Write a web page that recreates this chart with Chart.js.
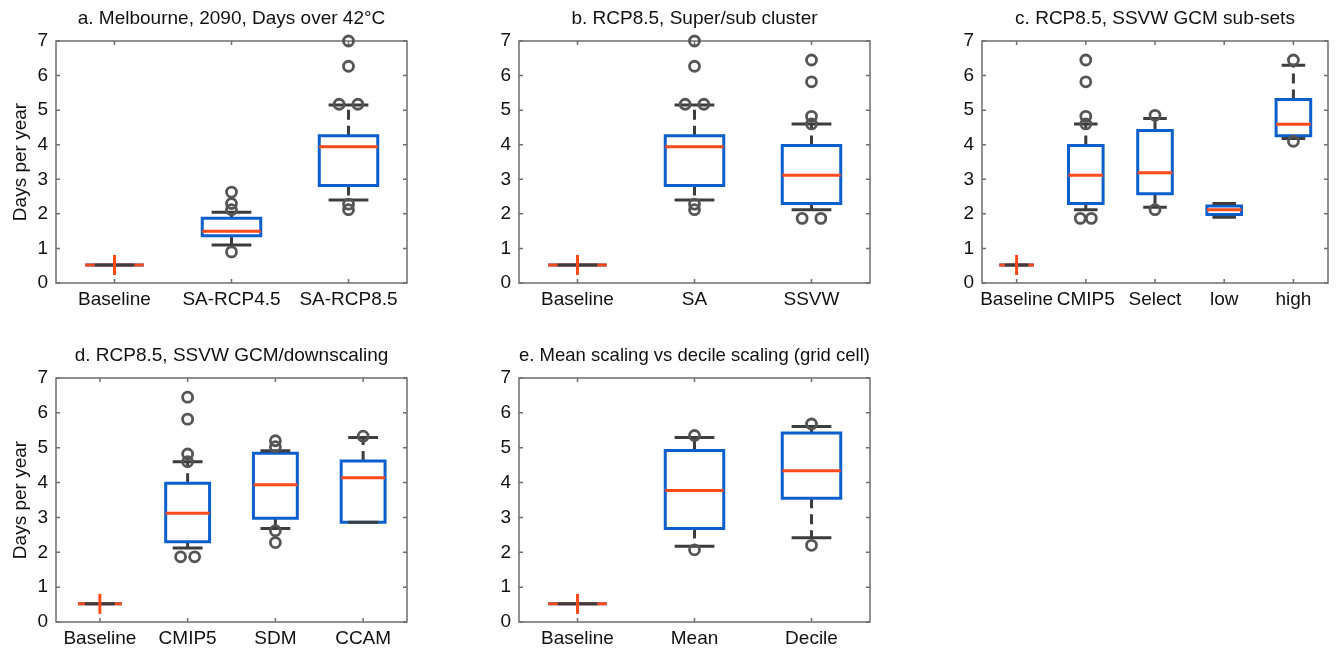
<!DOCTYPE html>
<html>
<head>
<meta charset="utf-8">
<script src="https://cdn.jsdelivr.net/npm/chart.js@4.4.0/dist/chart.umd.min.js"></script>
<style>
  body { margin: 0; background: #fff; width: 1341px; height: 650px; overflow: hidden; }
  .panel { position: absolute; }
</style>
</head>
<body>
<div class="panel" style="left:0px;top:0px"><canvas id="chartA" width="420" height="310"></canvas></div>
<div class="panel" style="left:463px;top:0px"><canvas id="chartB" width="420" height="310"></canvas></div>
<div class="panel" style="left:926px;top:0px"><canvas id="chartC" width="415" height="310"></canvas></div>
<div class="panel" style="left:0px;top:337px"><canvas id="chartD" width="420" height="312"></canvas></div>
<div class="panel" style="left:463px;top:337px"><canvas id="chartE" width="420" height="312"></canvas></div>
<script>
// a. Melbourne, 2090, Days over 42°C
const catsA = ["Baseline", "SA-RCP4.5", "SA-RCP8.5"];
const loA = [0.52, 1.1, 2.4];
const q1A = [0.52, 1.37, 2.82];
const medA = [0.52, 1.5, 3.94];
const q3A = [0.52, 1.87, 4.26];
const hiA = [0.52, 2.05, 5.15];
const outA = [[], [0.9, 2.12, 2.3, 2.63], [2.12, 2.28, 5.17, 5.17, 6.27, 7.0]];

// b. RCP8.5, Super/sub cluster
const catsB = ["Baseline", "SA", "SSVW"];
const loB = [0.52, 2.4, 2.12];
const q1B = [0.52, 2.82, 2.3];
const medB = [0.52, 3.94, 3.12];
const q3B = [0.52, 4.26, 3.98];
const hiB = [0.52, 5.15, 4.6];
const outB = [[], [2.12, 2.28, 5.17, 5.17, 6.27, 7.0], [1.87, 1.87, 4.6, 4.82, 5.82, 6.45]];

// c. RCP8.5, SSVW GCM sub-sets
const catsC = ["Baseline", "CMIP5", "Select", "low", "high"];
const loC = [0.52, 2.12, 2.19, 1.9, 4.18];
const q1C = [0.52, 2.3, 2.58, 1.98, 4.26];
const medC = [0.52, 3.12, 3.19, 2.12, 4.59];
const q3C = [0.52, 3.98, 4.41, 2.23, 5.31];
const hiC = [0.52, 4.6, 4.76, 2.3, 6.3];
const outC = [[], [1.87, 1.87, 4.6, 4.82, 5.82, 6.45], [2.12, 4.85], [], [4.1, 6.45]];

// d. RCP8.5, SSVW GCM/downscaling
const catsD = ["Baseline", "CMIP5", "SDM", "CCAM"];
const loD = [0.52, 2.12, 2.68, 2.86];
const q1D = [0.52, 2.3, 2.98, 2.86];
const medD = [0.52, 3.12, 3.94, 4.14];
const q3D = [0.52, 3.98, 4.84, 4.62];
const hiD = [0.52, 4.6, 4.91, 5.29];
const outD = [[], [1.87, 1.87, 4.6, 4.82, 5.82, 6.45], [2.28, 2.62, 5.03, 5.2], [5.33]];

// e. Mean scaling vs decile scaling (grid cell)
const catsE = ["Baseline", "Mean", "Decile"];
const loE = [0.52, 2.17, 2.42];
const q1E = [0.52, 2.68, 3.55];
const medE = [0.52, 3.77, 4.34];
const q3E = [0.52, 4.92, 5.42];
const hiE = [0.52, 5.29, 5.61];
const outE = [[], [2.07, 5.35], [2.2, 5.68]];

const yTicks = [0, 1, 2, 3, 4, 5, 6, 7];

const BLUE = "#0b5fcc";
const RED = "#ff4a1a";
const DARK = "#3d3d3d";
const FONT = "'Liberation Sans', Arial, sans-serif";

// box half width, cap half width and side-by-side spread (x data units)
const BOX_HALF = 0.25;
const CAP_HALF = 0.17;
const SPREAD = 0.08;

// Build the line / point datasets for one box plot panel
function boxDatasets(cats, lo, q1, med, q3, hi, outs) {
  const boxPts = [], medPts = [], whiskPts = [], capPts = [], outPts = [], plusPts = [];

  cats.forEach((c, i) => {
    const x = i + 1;

    // box outline, starting mid bottom so no corner is left open
    boxPts.push(
      { x: x, y: q1[i] },
      { x: x + BOX_HALF, y: q1[i] },
      { x: x + BOX_HALF, y: q3[i] },
      { x: x - BOX_HALF, y: q3[i] },
      { x: x - BOX_HALF, y: q1[i] },
      { x: x, y: q1[i] },
      { x: x, y: null }
    );

    medPts.push({ x: x - BOX_HALF, y: med[i] }, { x: x + BOX_HALF, y: med[i] }, { x: x, y: null });

    if (hi[i] > q3[i]) {
      whiskPts.push({ x: x, y: q3[i] }, { x: x, y: hi[i] }, { x: x, y: null });
    }
    if (lo[i] < q1[i]) {
      whiskPts.push({ x: x, y: q1[i] }, { x: x, y: lo[i] }, { x: x, y: null });
    }

    capPts.push(
      { x: x - CAP_HALF, y: hi[i] }, { x: x + CAP_HALF, y: hi[i] }, { x: x, y: null },
      { x: x - CAP_HALF, y: lo[i] }, { x: x + CAP_HALF, y: lo[i] }, { x: x, y: null }
    );

    // groups with no spread get the red cross mark
    if (q1[i] === q3[i]) {
      plusPts.push({ x: x, y: med[i] });
    }

    // repeated outlier values are drawn side by side
    outs[i].forEach((v, k) => {
      const n = outs[i].filter((u) => u === v).length;
      const j = outs[i].slice(0, k).filter((u) => u === v).length;
      const dx = n > 1 ? (j - (n - 1) / 2) * 2 * SPREAD : 0;
      outPts.push({ x: x + dx, y: v });
    });
  });

  const lineBase = { showLine: true, pointRadius: 0, spanGaps: false, borderWidth: 3 };

  // first dataset is drawn on top
  return [
    {
      data: outPts,
      pointRadius: 5,
      pointBorderWidth: 2.8,
      pointBorderColor: "#555555",
      pointBackgroundColor: "rgba(255,255,255,0)",
      clip: false,
    },
    {
      data: plusPts,
      pointStyle: "line",
      pointRotation: 90,
      pointRadius: 10,
      pointBorderWidth: 3,
      pointBorderColor: RED,
    },
    { ...lineBase, data: capPts, borderColor: DARK },
    { ...lineBase, data: medPts, borderColor: RED },
    { ...lineBase, data: boxPts, borderColor: BLUE },
    { ...lineBase, data: whiskPts, borderColor: DARK, borderDash: [10, 6] },
  ];
}

// Frame round the plot area with small inward ticks on all sides
const framePlugin = {
  id: "frame",
  beforeDatasetsDraw(chart) {
    const { ctx, chartArea: a, scales } = chart;
    ctx.save();
    ctx.strokeStyle = "#6e6e6e";
    ctx.lineWidth = 1.5;
    ctx.strokeRect(a.left, a.top, a.width, a.height);
    ctx.beginPath();
    scales.y.ticks.forEach((t) => {
      const py = scales.y.getPixelForValue(t.value);
      ctx.moveTo(a.left, py);
      ctx.lineTo(a.left + 4, py);
      ctx.moveTo(a.right, py);
      ctx.lineTo(a.right - 4, py);
    });
    scales.x.ticks.forEach((t) => {
      const px = scales.x.getPixelForValue(t.value);
      ctx.moveTo(px, a.bottom);
      ctx.lineTo(px, a.bottom - 4);
      ctx.moveTo(px, a.top);
      ctx.lineTo(px, a.top + 4);
    });
    ctx.stroke();
    ctx.restore();
  },
};

function makePanel(canvasId, title, showYTitle, rightPad, cats, lo, q1, med, q3, hi, outs) {
  return new Chart(document.getElementById(canvasId), {
    type: "scatter",
    data: { datasets: boxDatasets(cats, lo, q1, med, q3, hi, outs) },
    options: {
      responsive: false,
      animation: false,
      events: [],
      layout: { padding: { left: 0, right: rightPad, top: 0, bottom: 0 } },
      plugins: {
        legend: { display: false },
        tooltip: { enabled: false },
        title: {
          display: true,
          text: title,
          fullSize: false,
          color: "#111",
          font: { family: FONT, size: 19, weight: "normal", lineHeight: "21px" },
          padding: { top: 8, bottom: 12 },
        },
      },
      scales: {
        x: {
          type: "linear",
          min: 0.5,
          max: cats.length + 0.5,
          grid: { display: false, drawTicks: false },
          border: { display: false },
          afterBuildTicks: (axis) => {
            axis.ticks = cats.map((c, i) => ({ value: i + 1 }));
          },
          afterFit: (axis) => {
            axis.height = 27;
          },
          ticks: {
            autoSkip: false,
            maxRotation: 0,
            padding: 5,
            color: "#111",
            font: { family: FONT, size: 19 },
            callback: (v) => cats[v - 1],
          },
        },
        y: {
          min: 0,
          max: 7,
          grid: { display: false, drawTicks: false },
          border: { display: false },
          afterBuildTicks: (axis) => {
            axis.ticks = yTicks.map((v) => ({ value: v }));
          },
          afterFit: (axis) => {
            axis.width = 56;
          },
          ticks: {
            padding: 8,
            color: "#111",
            font: { family: FONT, size: 19 },
          },
          title: {
            display: showYTitle,
            text: "Days per year",
            color: "#111",
            font: { family: FONT, size: 19 },
            padding: { top: 9, bottom: 0 },
          },
        },
      },
    },
    plugins: [framePlugin],
  });
}

makePanel("chartA", "a. Melbourne, 2090, Days over 42°C", true, 11, catsA, loA, q1A, medA, q3A, hiA, outA);
makePanel("chartB", "b. RCP8.5, Super/sub cluster", false, 11, catsB, loB, q1B, medB, q3B, hiB, outB);
makePanel("chartC", "c. RCP8.5, SSVW GCM sub-sets", false, 5, catsC, loC, q1C, medC, q3C, hiC, outC);
makePanel("chartD", "d. RCP8.5, SSVW GCM/downscaling", true, 11, catsD, loD, q1D, medD, q3D, hiD, outD);
makePanel("chartE", "e. Mean scaling vs decile scaling (grid cell)", false, 11, catsE, loE, q1E, medE, q3E, hiE, outE);
</script>
</body>
</html>
